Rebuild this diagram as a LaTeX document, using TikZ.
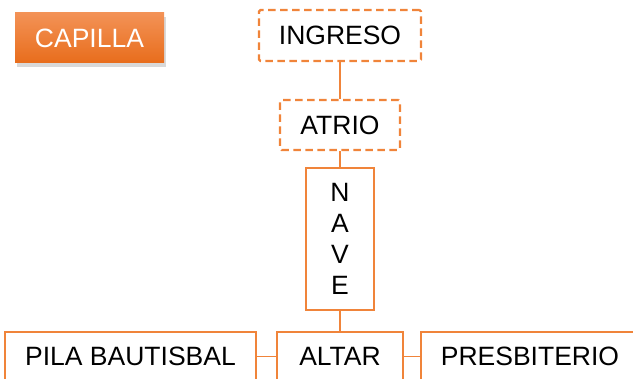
\documentclass[tikz,border=0pt]{standalone}
\usepackage{fontspec}
\setmainfont{Liberation Sans}
\usetikzlibrary{shadows}
\definecolor{Naranja}{HTML}{F0843A}
\definecolor{NaranjaClaro}{HTML}{F39256}
\definecolor{NaranjaOscuro}{HTML}{E86D1C}
\tikzset{
  letra/.style={font=\fontsize{26.5}{31}\selectfont, text=black},
  titulo/.style={letra, text=white, top color=NaranjaClaro, bottom color=NaranjaOscuro, minimum width=149pt, minimum height=50pt, inner sep=0pt, drop shadow={shadow xshift=2pt, shadow yshift=-4pt, opacity=0.3}},
  punteada/.style={letra, draw=Naranja, line width=2.4pt, dash pattern=on 7.5pt off 4.5pt, rounded corners=1.5pt, fill=white, inner sep=0pt},
  caja/.style={letra, draw=Naranja, line width=2.2pt, fill=white, inner sep=0pt, align=center},
  enlace/.style={draw=Naranja, line width=1.6pt},
}
\begin{document}
\begin{tikzpicture}[x=1pt, y=-1pt]
    \clip (0,0) rectangle (633,379);
    \useasboundingbox (0,0) rectangle (633,379);
    \node[titulo] (capilla) at (89.5, 38) {CAPILLA};
    \node[punteada, minimum width=162pt, minimum height=51pt] (ingreso) at (340, 35.5) {INGRESO};
    \node[punteada, minimum width=120pt, minimum height=50pt] (atrio) at (340, 125) {ATRIO};
    \node[caja, minimum width=68pt, minimum height=142pt] (nave) at (340, 239) {N\\A\\V\\E};
    \node[caja, minimum width=126pt, minimum height=49pt] (altar) at (340, 356.5) {ALTAR};
    \node[caja, minimum width=251pt, minimum height=49pt] (pila) at (130.5, 356.5) {PILA BAUTISBAL};
    \node[caja, minimum width=218pt, minimum height=49pt] (presb) at (530, 356.5) {PRESBITERIO};
    \draw[enlace] (ingreso) -- (atrio);
    \draw[enlace] (atrio) -- (nave);
    \draw[enlace] (nave) -- (altar);
    \draw[enlace] (pila) -- (altar);
    \draw[enlace] (altar) -- (presb);
  \end{tikzpicture}
\end{document}
